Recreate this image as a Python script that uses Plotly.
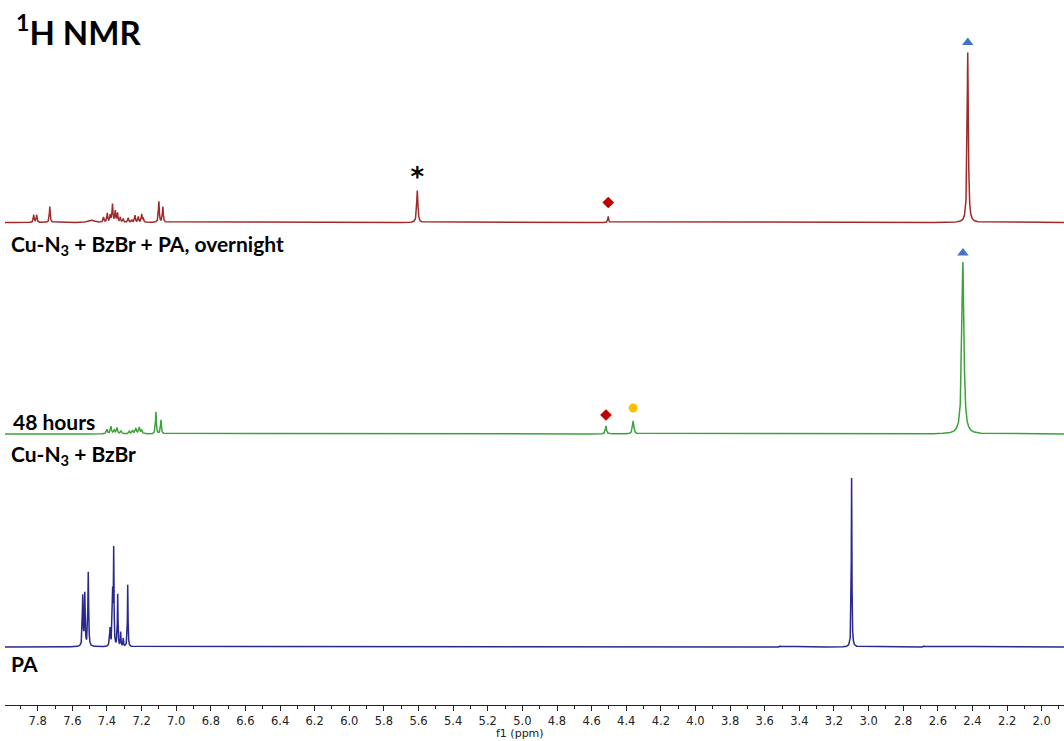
import numpy as np
import plotly.graph_objects as go

# ---------------- data ----------------
# peak lists: chemical shift (ppm), height (a.u.), half width (ppm)
red_ppm = [7.823, 7.806, 7.730, 7.500, 7.480, 7.420, 7.398, 7.381, 7.368, 7.352, 7.339, 7.323, 7.306,
           7.277, 7.257, 7.238, 7.219, 7.199, 7.190, 7.100, 7.077, 5.607, 4.504, 2.427]
red_h = [7.5, 7.5, 16, 1.8, 1.8, 5, 9, 7, 18, 11, 9, 5, 3.5,
         4.5, 2.5, 7, 5.5, 8, 4, 21, 15.5, 32, 6, 170]
red_w = [0.003, 0.003, 0.003, 0.012, 0.012, 0.003, 0.003, 0.003, 0.003, 0.003, 0.003, 0.003, 0.003,
         0.003, 0.003, 0.003, 0.003, 0.003, 0.003, 0.003, 0.003, 0.004, 0.003, 0.004]

green_ppm = [7.400, 7.377, 7.358, 7.342, 7.319, 7.271, 7.252, 7.233, 7.213, 7.199, 7.117, 7.088, 4.517, 4.360, 2.455]
green_h = [4.5, 7.5, 3.5, 6, 3, 2.5, 3.5, 5.5, 6.5, 3.5, 22, 14, 8, 13, 172]
green_w = [0.004, 0.004, 0.004, 0.004, 0.004, 0.004, 0.004, 0.004, 0.004, 0.004, 0.003, 0.003, 0.004, 0.005, 0.007]

blue_ppm = [7.540, 7.528, 7.508, 7.382, 7.367, 7.361, 7.338, 7.321, 7.306, 7.280, 3.510, 3.098, 2.680]
blue_h = [50, 52, 74, 18, 50, 95, 52, 14, 8, 62, 1, 169, 1]
blue_w = [0.0025, 0.0025, 0.0025, 0.003, 0.002, 0.002, 0.002, 0.002, 0.002, 0.002, 0.003, 0.002, 0.003]

# peak annotations (ppm, height above the spectrum baseline)
red_tri = (2.427, 180)
red_star = (5.607, 43)
red_diamond = (4.504, 20)
green_tri = (2.455, 181)
green_diamond = (4.517, 19)
green_circle = (4.360, 26)

tick_vals = [round(v, 1) for v in np.arange(2.0, 7.81, 0.2)]

# ---------------- build spectra ----------------
x = np.arange(1.86, 8.00, 0.0005)


def spectrum(centres, heights, widths):
    y = np.zeros_like(x)
    for c, h, w in zip(centres, heights, widths):
        y += h / (1.0 + ((x - c) / w) ** 2)
    return y


off_red, off_green, off_blue = 482.5, 271, 58

fig = go.Figure()
fig.add_trace(go.Scatter(x=x, y=spectrum(red_ppm, red_h, red_w) + off_red, mode="lines",
                         line=dict(color="#9E2A2B", width=1.5), hoverinfo="skip"))
fig.add_trace(go.Scatter(x=x, y=spectrum(green_ppm, green_h, green_w) + off_green, mode="lines",
                         line=dict(color="#3BA33B", width=1.5), hoverinfo="skip"))
fig.add_trace(go.Scatter(x=x, y=spectrum(blue_ppm, blue_h, blue_w) + off_blue, mode="lines",
                         line=dict(color="#28288F", width=1.5), hoverinfo="skip"))

# markers
fig.add_trace(go.Scatter(x=[red_tri[0], green_tri[0]], y=[red_tri[1] + off_red, green_tri[1] + off_green],
                         mode="markers", marker=dict(symbol="triangle-up", size=10, color="#4472C4"),
                         hoverinfo="skip"))
fig.add_trace(go.Scatter(x=[red_diamond[0], green_diamond[0]],
                         y=[red_diamond[1] + off_red, green_diamond[1] + off_green],
                         mode="markers", marker=dict(symbol="diamond", size=9, color="#C00000"),
                         hoverinfo="skip"))
fig.add_trace(go.Scatter(x=[green_circle[0]], y=[green_circle[1] + off_green],
                         mode="markers", marker=dict(symbol="circle", size=9, color="#FFC000"),
                         hoverinfo="skip"))
fig.add_trace(go.Scatter(x=[red_star[0]], y=[red_star[1] + off_red], mode="text", text=["<b>*</b>"],
                         textfont=dict(size=26, color="black", family="DejaVu Sans"),
                         textposition="middle center", hoverinfo="skip"))

W, H = 1064, 741
L, B = 5, 36
PW, PH = W - L, H - B


def px(xp, yp):
    return (xp - L) / PW, (H - B - yp) / PH


labels = [
    ("<sup>1</sup>H NMR", 14, 30, 33),
    ("Cu-N<sub>3</sub> + BzBr + PA, overnight", 9, 245, 21),
    ("48 hours", 11, 421, 21),
    ("Cu-N<sub>3</sub> + BzBr", 9, 455, 21),
    ("PA", 9, 663, 21),
]
for txt, xp, yp, fs in labels:
    ax, ay = px(xp, yp)
    fig.add_annotation(text="<b>" + txt + "</b>", x=ax, y=ay, xref="paper", yref="paper",
                       xanchor="left", yanchor="middle", showarrow=False,
                       font=dict(family="Lato", size=fs, color="black"))

ax, ay = px(520, 741)
fig.add_annotation(text="f1 (ppm)", x=ax, y=ay, xref="paper", yref="paper", xanchor="center",
                   yanchor="bottom", showarrow=False, borderpad=0,
                   font=dict(family="DejaVu Sans", size=11, color="#222222"))

fig.update_layout(
    width=W, height=H, margin=dict(l=L, r=0, t=0, b=B),
    paper_bgcolor="white", plot_bgcolor="white", showlegend=False,
    xaxis=dict(range=[7.989, 1.871], tickvals=tick_vals, tickformat=".1f", ticks="outside",
               ticklen=5, tickwidth=1, tickcolor="#222222", showline=True, linecolor="#222222",
               linewidth=1, showgrid=False, zeroline=False,
               tickfont=dict(family="DejaVu Sans", size=11.5, color="#222222"),
               minor=dict(dtick=0.1, tick0=0, ticks="outside", ticklen=3, tickcolor="#222222",
                          showgrid=False)),
    yaxis=dict(range=[0, PH], visible=False, showgrid=False, zeroline=False),
)

fig.write_html("out.html", config={"displayModeBar": False},
               post_script="document.body.style.margin='0';")
